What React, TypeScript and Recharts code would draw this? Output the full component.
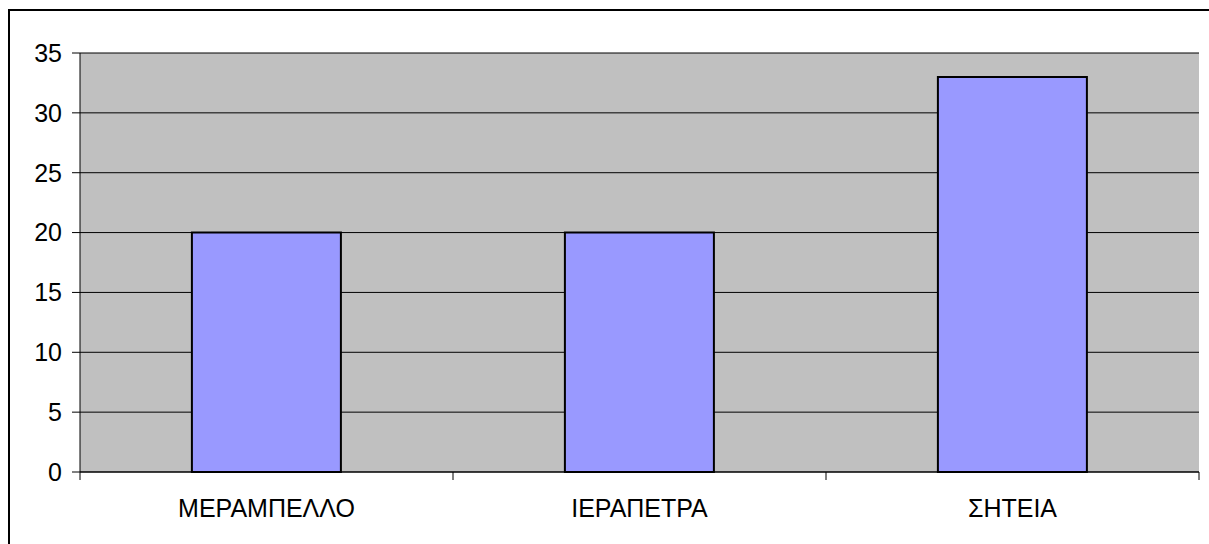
import React from "react";
import {
  BarChart,
  Bar,
  XAxis,
  YAxis,
  CartesianGrid,
} from "recharts";

const categories = ["ΜΕΡΑΜΠΕΛΛΟ", "ΙΕΡΑΠΕΤΡΑ", "ΣΗΤΕΙΑ"];
const counts = [20, 20, 33];
const yTicks = [0, 5, 10, 15, 20, 25, 30, 35];

const data = categories.map((name, i) => ({ name, count: counts[i] }));

const FONT = "Arial, 'Liberation Sans', sans-serif";

// category label plus tick marks at the band edges instead of the centre
function CategoryTick(props: any) {
  const { x, y, payload, index, visibleTicksCount } = props;
  const half = payload?.offset ?? 0;
  return (
    <g>
      <line x1={x - half} x2={x - half} y1={y} y2={y + 8} stroke="#000" />
      {index === visibleTicksCount - 1 && (
        <line x1={x + half} x2={x + half} y1={y} y2={y + 8} stroke="#000" />
      )}
      <text
        x={x}
        y={y + 45}
        textAnchor="middle"
        fill="#000"
        fontSize={25}
        fontFamily={FONT}
      >
        {payload.value}
      </text>
    </g>
  );
}

export default function App() {
  return (
    <div
      style={{
        position: "absolute",
        left: 0,
        top: 0,
        width: 1209,
        height: 544,
        overflow: "hidden",
        background: "#fff",
      }}
    >
      {/* frame around the chart, cut off at the right and bottom */}
      <div
        style={{
          position: "absolute",
          left: 8,
          top: 9,
          width: 1199,
          height: 535,
          borderLeft: "2px solid #000",
          borderTop: "2px solid #000",
        }}
      />
      <BarChart
        width={1209}
        height={544}
        data={data}
        margin={{ top: 53, right: 10, left: 0, bottom: 0 }}
        barCategoryGap="30%"
        style={{ position: "absolute", left: 0, top: 0 }}
      >
        <CartesianGrid fill="#c0c0c0" stroke="#000" vertical={false} />
        <XAxis
          dataKey="name"
          height={72}
          axisLine={{ stroke: "#000" }}
          tickLine={false}
          tickSize={0}
          tickMargin={0}
          interval={0}
          tick={<CategoryTick />}
        />
        <XAxis
          xAxisId="top"
          orientation="top"
          dataKey="name"
          height={0}
          axisLine={{ stroke: "#808080" }}
          tick={false}
          tickLine={false}
        />
        <YAxis
          domain={[0, 35]}
          ticks={yTicks}
          width={80}
          axisLine={{ stroke: "#000" }}
          tickLine={{ stroke: "#000" }}
          tickSize={8}
          tickMargin={10}
          tick={{ fill: "#000", fontSize: 25, fontFamily: FONT }}
        />
        <YAxis
          yAxisId="right"
          orientation="right"
          domain={[0, 35]}
          width={0}
          axisLine={{ stroke: "#808080" }}
          tick={false}
          tickLine={false}
        />
        <Bar
          dataKey="count"
          fill="#9999ff"
          stroke="#000"
          strokeWidth={2}
          isAnimationActive={false}
        />
      </BarChart>
    </div>
  );
}
